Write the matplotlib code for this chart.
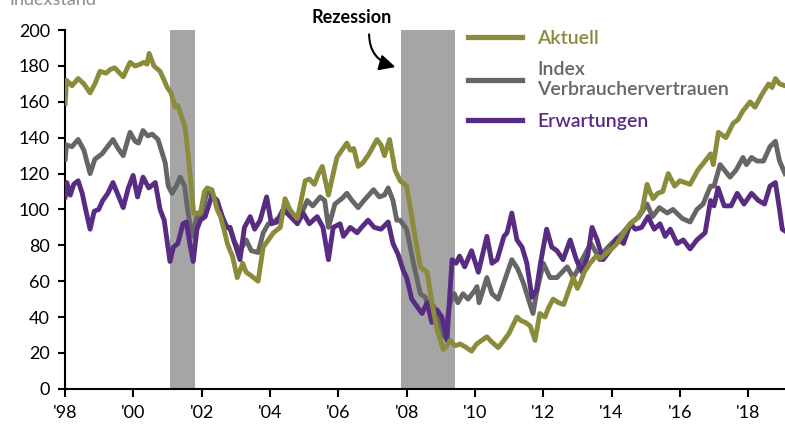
import numpy as np
import matplotlib
matplotlib.use("Agg")
import matplotlib.pyplot as plt
from matplotlib.lines import Line2D

plt.rcParams['font.family'] = ['Lato', 'DejaVu Sans']

# Aktuell (present situation)
akt_x = [1998.0, 1998.04, 1998.2, 1998.38, 1998.55, 1998.73, 1998.87, 1999.02, 1999.2, 1999.32,
         1999.45, 1999.6, 1999.7, 1999.9, 2000.05, 2000.2, 2000.3, 2000.4, 2000.46, 2000.6,
         2000.78, 2000.9, 2000.99, 2001.1, 2001.22, 2001.3, 2001.37, 2001.51, 2001.6, 2001.7,
         2001.76, 2001.96, 2002.08, 2002.16, 2002.3, 2002.45, 2002.55, 2002.65, 2002.75, 2002.83,
         2002.9, 2003.04, 2003.2, 2003.3, 2003.45, 2003.65, 2003.8, 2003.95, 2004.1, 2004.3,
         2004.44, 2004.58, 2004.7, 2004.8, 2005.03, 2005.15, 2005.3, 2005.42, 2005.53, 2005.71,
         2005.85, 2005.96, 2006.1, 2006.25, 2006.35, 2006.45, 2006.58, 2006.72, 2006.9, 2007.13,
         2007.25, 2007.35, 2007.5, 2007.66, 2007.81, 2008.0, 2008.2, 2008.4, 2008.6, 2008.74,
         2008.89, 2009.07, 2009.18, 2009.27, 2009.42, 2009.57, 2009.75, 2009.9, 2010.05, 2010.2,
         2010.35, 2010.5, 2010.68, 2010.85, 2011.0, 2011.23, 2011.35, 2011.48, 2011.62, 2011.76,
         2011.9, 2012.05, 2012.15, 2012.29, 2012.45, 2012.6, 2012.75, 2012.88, 2013.0, 2013.08,
         2013.2, 2013.37, 2013.55, 2013.7, 2013.87, 2014.0, 2014.16, 2014.3, 2014.46, 2014.6,
         2014.75, 2014.9, 2015.04, 2015.12, 2015.22, 2015.35, 2015.5, 2015.66, 2015.85, 2016.0,
         2016.15, 2016.3, 2016.53, 2016.7, 2016.9, 2016.98, 2017.13, 2017.35, 2017.56, 2017.7,
         2017.85, 2018.06, 2018.2, 2018.4, 2018.6, 2018.7, 2018.8, 2018.92, 2019.08]
akt_y = [159, 172, 169, 173, 170, 165, 170, 177, 176, 178,
         179, 176, 174, 182, 180, 181, 182, 181, 187, 180,
         177, 172, 168, 165, 157, 158, 154, 146, 131, 111,
         98, 98, 110, 112, 111, 100, 96, 89, 81, 77,
         74, 62, 70, 65, 63, 60, 79, 83, 87, 90,
         106, 100, 97, 95, 116, 117, 114, 120, 124, 108,
         120, 129, 133, 137, 133, 134, 124, 126, 131, 139,
         136, 130, 139, 122, 116, 113, 90, 68, 65, 48,
         33, 22, 24, 27, 24, 25, 23, 21, 25, 27,
         29, 26, 23, 27, 31, 40, 38, 37, 35, 27,
         42, 40, 45, 50, 48, 47, 55, 62, 56, 59,
         65, 70, 74, 73, 76, 78, 81, 85, 90, 93,
         95, 100, 114, 110, 106, 109, 110, 120, 113, 116,
         115, 114, 122, 126, 131, 125, 143, 140, 148, 150,
         155, 160, 157, 164, 170, 168, 173, 170, 169]

# Index Verbrauchervertrauen
idx_x = [1998.0, 1998.04, 1998.2, 1998.38, 1998.55, 1998.73, 1998.87, 1999.08, 1999.2, 1999.32,
         1999.4, 1999.55, 1999.7, 1999.9, 2000.05, 2000.15, 2000.28, 2000.42, 2000.55, 2000.72,
         2000.85, 2000.93, 2001.02, 2001.13, 2001.25, 2001.37, 2001.5, 2001.6, 2001.72, 2001.86,
         2001.96, 2002.16, 2002.3, 2002.45, 2002.6, 2002.75, 2002.83, 2002.95, 2003.12, 2003.3,
         2003.45, 2003.65, 2003.8, 2003.95, 2004.1, 2004.3, 2004.44, 2004.6, 2004.88, 2005.09,
         2005.25, 2005.47, 2005.6, 2005.71, 2005.9, 2006.1, 2006.25, 2006.4, 2006.58, 2006.75,
         2007.03, 2007.2, 2007.35, 2007.46, 2007.6, 2007.71, 2007.81, 2008.0, 2008.2, 2008.4,
         2008.55, 2008.69, 2008.8, 2008.93, 2009.1, 2009.27, 2009.4, 2009.5, 2009.65, 2009.8,
         2010.0, 2010.06, 2010.12, 2010.35, 2010.5, 2010.68, 2010.9, 2011.08, 2011.25, 2011.42,
         2011.55, 2011.7, 2011.8, 2012.0, 2012.2, 2012.4, 2012.55, 2012.7, 2012.88, 2013.0,
         2013.08, 2013.28, 2013.4, 2013.66, 2013.8, 2014.0, 2014.33, 2014.55, 2014.8, 2015.04,
         2015.2, 2015.4, 2015.63, 2015.8, 2016.07, 2016.3, 2016.5, 2016.68, 2016.9, 2017.0,
         2017.18, 2017.47, 2017.65, 2017.85, 2017.95, 2018.1, 2018.26, 2018.45, 2018.64, 2018.8,
         2018.92, 2019.08]
idx_y = [128, 136, 135, 139, 133, 120, 128, 131, 134, 137,
         139, 134, 130, 143, 138, 137, 144, 141, 142, 139,
         131, 126, 113, 109, 113, 118, 113, 98, 85, 96,
         95, 110, 108, 104, 96, 90, 89, 82, 77, 83,
         77, 76, 87, 92, 93, 96, 101, 96, 96, 105,
         102, 107, 105, 90, 103, 106, 109, 105, 101, 105,
         111, 107, 108, 112, 105, 94, 94, 89, 70, 53,
         51, 42, 46, 37, 29, 48, 53, 48, 53, 50,
         55, 57, 48, 62, 53, 50, 62, 72, 67, 59,
         51, 42, 53, 70, 62, 62, 65, 68, 62, 66,
         70, 77, 81, 72, 77, 81, 87, 92, 96, 103,
         96, 101, 98, 100, 95, 93, 100, 103, 113, 113,
         125, 118, 122, 129, 125, 129, 127, 127, 135, 138,
         127, 120]

# Erwartungen (expectations)
erw_x = [1998.0, 1998.05, 1998.15, 1998.25, 1998.38, 1998.5, 1998.6, 1998.73, 1998.85, 1998.98,
         1999.1, 1999.25, 1999.4, 1999.55, 1999.7, 1999.85, 1999.99, 2000.12, 2000.28, 2000.45,
         2000.64, 2000.78, 2000.9, 2001.07, 2001.17, 2001.3, 2001.45, 2001.55, 2001.65, 2001.75,
         2001.86, 2001.96, 2002.1, 2002.3, 2002.45, 2002.6, 2002.7, 2002.83, 2002.97, 2003.12,
         2003.25, 2003.42, 2003.55, 2003.71, 2003.9, 2004.04, 2004.2, 2004.38, 2004.6, 2004.8,
         2004.97, 2005.15, 2005.38, 2005.55, 2005.71, 2005.85, 2006.05, 2006.15, 2006.35, 2006.55,
         2006.68, 2006.87, 2007.05, 2007.25, 2007.46, 2007.6, 2007.75, 2007.9, 2008.0, 2008.15,
         2008.3, 2008.45, 2008.6, 2008.74, 2008.89, 2009.03, 2009.18, 2009.33, 2009.45, 2009.55,
         2009.7, 2009.9, 2010.1, 2010.35, 2010.5, 2010.65, 2010.85, 2010.94, 2011.08, 2011.23,
         2011.38, 2011.52, 2011.67, 2011.8, 2011.92, 2012.1, 2012.25, 2012.4, 2012.58, 2012.79,
         2012.97, 2013.14, 2013.3, 2013.43, 2013.58, 2013.75, 2013.95, 2014.16, 2014.35, 2014.55,
         2014.7, 2014.88, 2015.07, 2015.25, 2015.42, 2015.57, 2015.72, 2015.92, 2016.1, 2016.3,
         2016.5, 2016.74, 2016.9, 2017.0, 2017.12, 2017.3, 2017.5, 2017.68, 2017.88, 2018.1,
         2018.3, 2018.48, 2018.64, 2018.8, 2018.92, 2019.0, 2019.08]
erw_y = [107, 115, 108, 114, 116, 109, 100, 89, 99, 100,
         105, 109, 115, 108, 101, 112, 119, 107, 118, 112,
         115, 100, 94, 71, 79, 81, 92, 93, 81, 71,
         89, 94, 96, 108, 105, 96, 90, 90, 81, 72,
         90, 96, 89, 94, 107, 92, 93, 100, 96, 92,
         98, 92, 96, 90, 72, 90, 92, 85, 90, 87,
         90, 94, 90, 89, 93, 81, 75, 66, 62, 50,
         46, 42, 48, 37, 44, 40, 27, 72, 70, 74,
         68, 77, 65, 85, 70, 72, 85, 87, 98, 83,
         79, 70, 51, 55, 70, 89, 79, 77, 72, 83,
         72, 65, 74, 90, 83, 72, 77, 84, 81, 92,
         89, 90, 96, 89, 92, 85, 89, 81, 83, 78,
         83, 87, 105, 102, 112, 102, 102, 109, 103, 109,
         105, 103, 113, 115, 100, 89, 88]

recessions = [(2001.07, 2001.8), (2007.84, 2009.42)]
year_ticks = list(range(1998, 2019, 2))
year_labels = ["'" + str(y)[2:] for y in year_ticks]

c_akt = '#8a8c3b'
c_idx = '#666666'
c_erw = '#582c83'

fig = plt.figure(figsize=(7.85, 4.24), dpi=100)
ax = fig.add_axes([0.083, 0.083, 0.917, 0.846])

for a, b in recessions:
    ax.axvspan(a, b, color='#a5a5a5', lw=0, zorder=1)

lw = 3.5
ax.plot(idx_x, idx_y, color=c_idx, lw=lw, solid_joinstyle='round', zorder=3)
ax.plot(erw_x, erw_y, color=c_erw, lw=lw, solid_joinstyle='round', zorder=4)
ax.plot(akt_x, akt_y, color=c_akt, lw=lw, solid_joinstyle='round', zorder=5)

ax.set_xlim(1998, 2019.08)
ax.set_ylim(0, 200)
ax.set_yticks(range(0, 201, 20))
ax.set_xticks(year_ticks)
ax.set_xticklabels(year_labels)
ax.tick_params(axis='both', labelsize=13, width=1.5, color='black')
ax.tick_params(axis='y', length=5, pad=6)
ax.tick_params(axis='x', length=6, pad=6)
for s in ['top', 'right']:
    ax.spines[s].set_visible(False)
for s in ['left', 'bottom']:
    ax.spines[s].set_linewidth(1.5)

handles = [Line2D([], [], color=c_akt, lw=3.8),
           Line2D([], [], color=c_idx, lw=3.8),
           Line2D([], [], color=c_erw, lw=3.8)]
labels = ['Aktuell', 'Index\nVerbrauchervertrauen', 'Erwartungen']
leg = ax.legend(handles, labels, loc='upper left', bbox_to_anchor=(0.536, 1.05),
                frameon=False, handlelength=2.75, handletextpad=0.8,
                labelspacing=0.75, labelcolor=[c_akt, c_idx, c_erw],
                prop={'weight': 'semibold', 'size': 14})

ax.annotate('Rezession', xy=(2007.75, 179), xytext=(2006.4, 207),
            ha='center', va='center', fontsize=13, fontweight='bold',
            annotation_clip=False,
            arrowprops=dict(arrowstyle='-|>', color='black', lw=1.5,
                            mutation_scale=24, shrinkA=4,
                            relpos=(0.72, 0.0),
                            connectionstyle='arc3,rad=0.45'))

fig.text(0.012, 1.0, 'Indexstand', color='#8c8c8c', fontsize=13, va='center')

fig.savefig('out.png', dpi=100)
